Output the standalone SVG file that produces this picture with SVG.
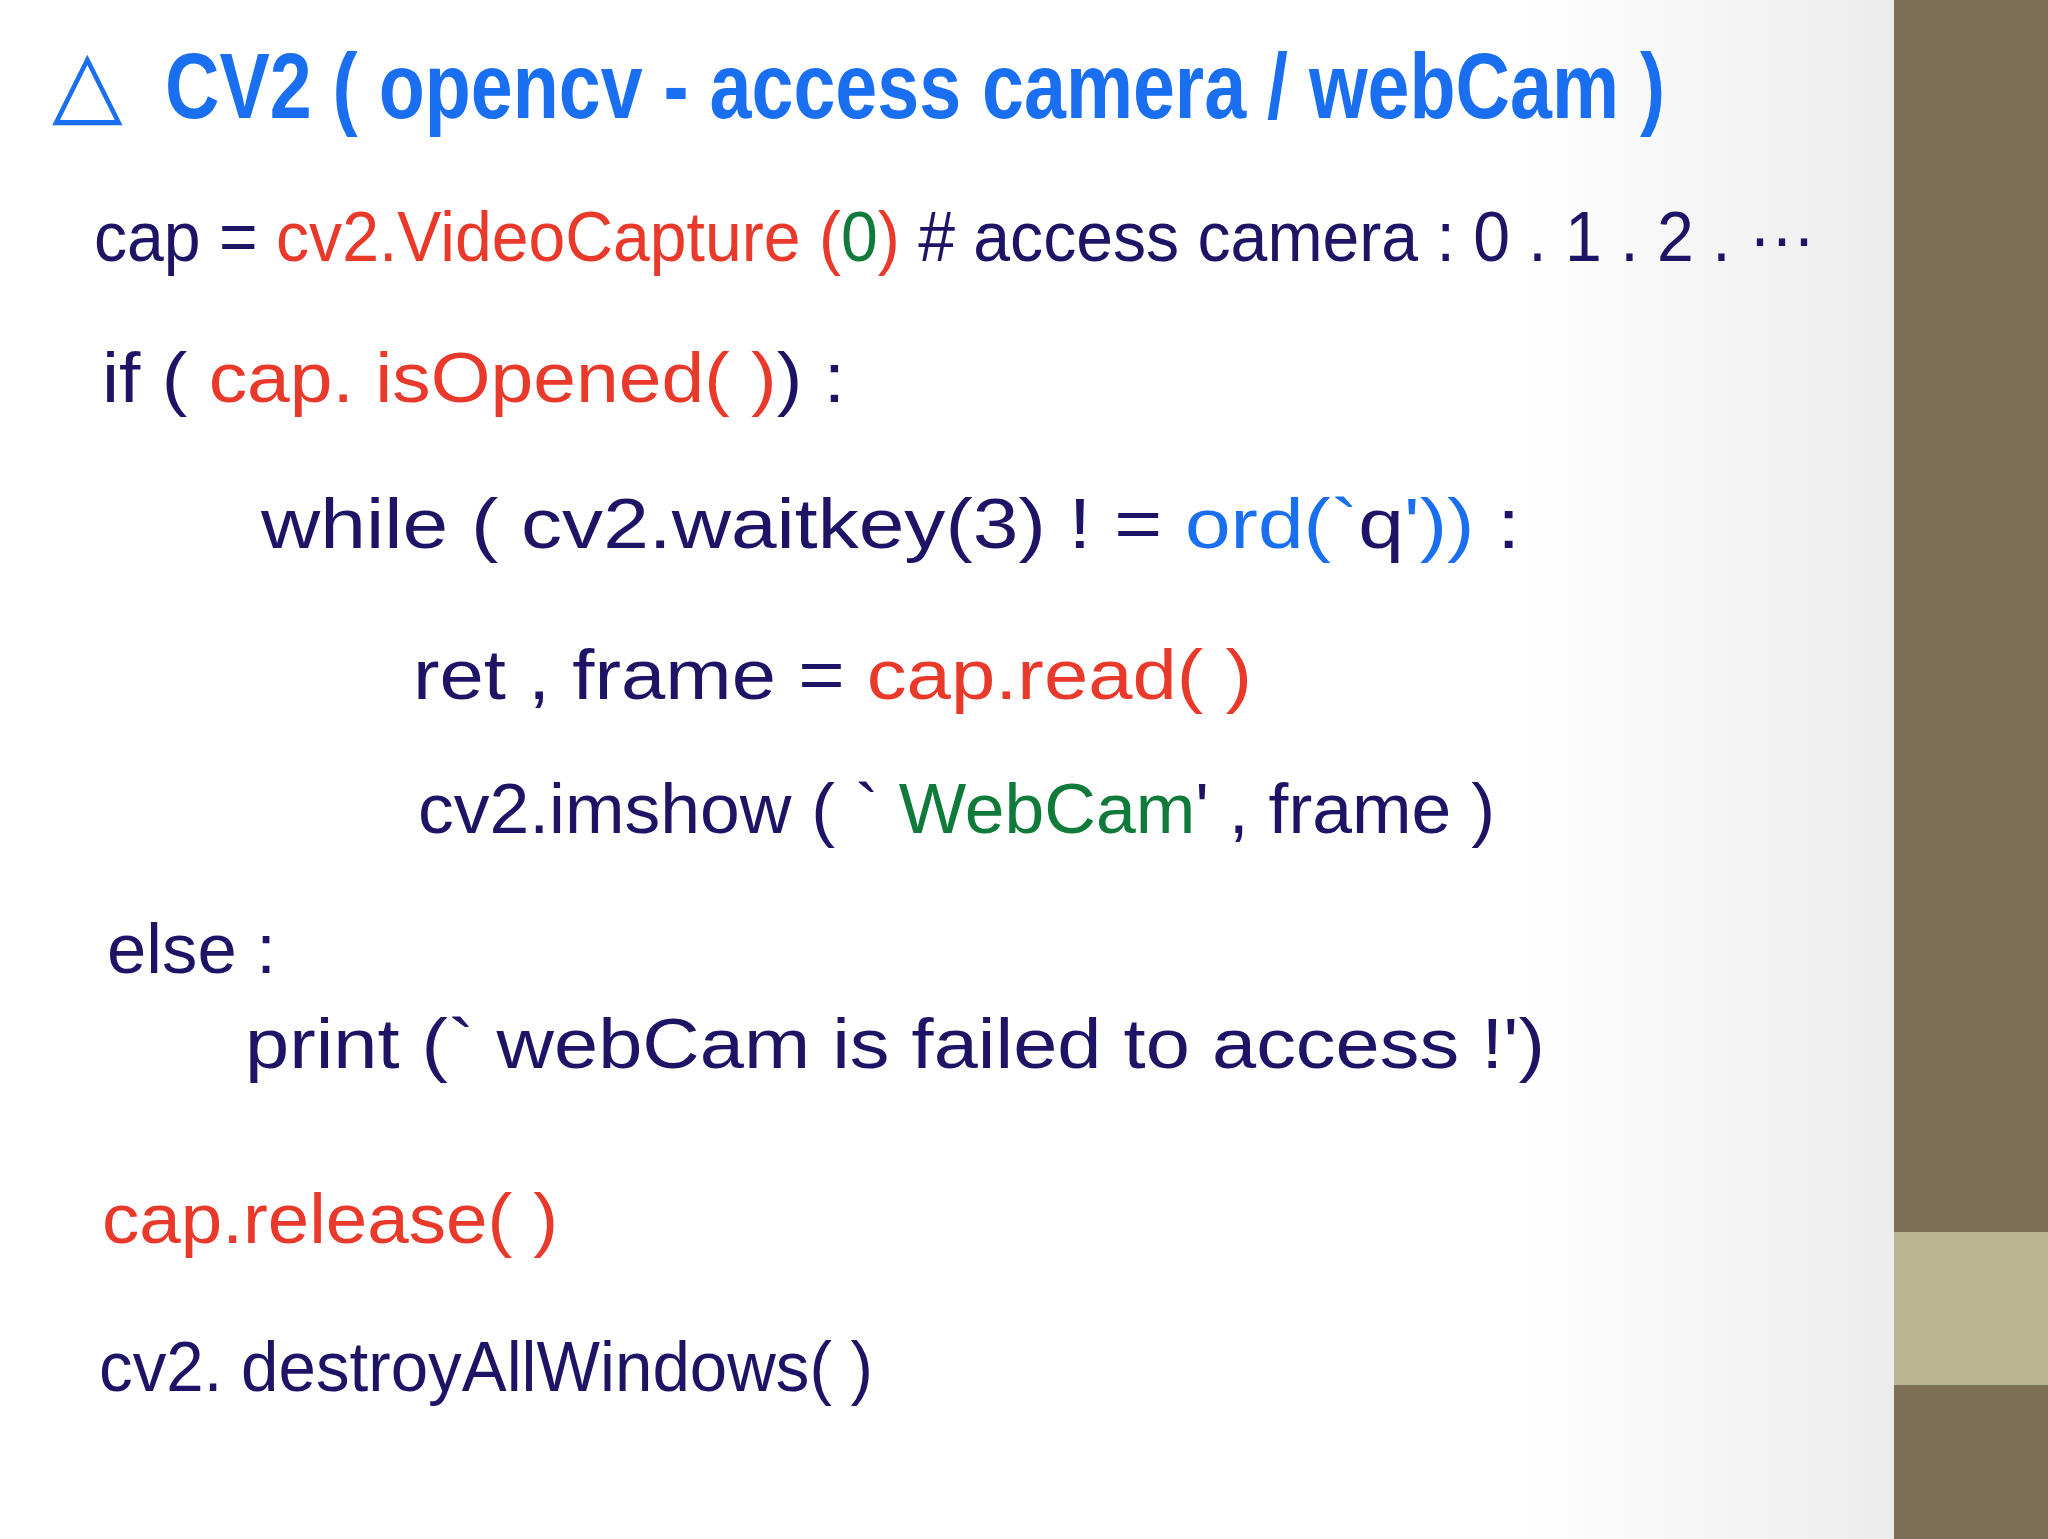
<svg xmlns="http://www.w3.org/2000/svg" width="2048" height="1539" viewBox="0 0 2048 1539">
<defs>
<linearGradient id="bg" x1="0" x2="1" y1="0" y2="0">
<stop offset="0" stop-color="#ffffff"/><stop offset="0.8" stop-color="#ffffff"/><stop offset="1" stop-color="#ececec"/>
</linearGradient>
</defs>
<style>
text{font-family:"Liberation Sans","DejaVu Sans",sans-serif;font-size:70px;fill:#1e1466}
.r{fill:#e8392a}.g{fill:#0f7a3a}.b{fill:#1a6ff0}
.t{font-size:92px;font-weight:bold;fill:#1a6ff0}
</style>
<rect width="1894" height="1539" fill="url(#bg)"/>
<rect x="1894" width="154" height="1539" fill="#7d7057"/>
<rect x="1894" y="1232" width="154" height="153" fill="#b8b592"/>
<g id="title">
<text class="t" x="52" y="114">△</text>
<text class="t" x="165" y="118" textLength="1500" lengthAdjust="spacingAndGlyphs">CV2 ( opencv - access camera / webCam )</text>
</g>
<g id="code">
<text x="94" y="261" textLength="1721" lengthAdjust="spacingAndGlyphs">cap = <tspan class="r">cv2.VideoCapture (</tspan><tspan class="g">0</tspan><tspan class="r">)</tspan> # access camera : 0 . 1 . 2 . ···</text>
<text x="102" y="402" textLength="743" lengthAdjust="spacingAndGlyphs">if ( <tspan class="r">cap. isOpened( )</tspan>) :</text>
<text x="261" y="548" textLength="1259" lengthAdjust="spacingAndGlyphs">while ( cv2.waitkey(3) ! = <tspan class="b">ord(`</tspan>q<tspan class="b">'))</tspan> :</text>
<text x="413" y="699" textLength="839" lengthAdjust="spacingAndGlyphs">ret , frame  = <tspan class="r">cap.read( )</tspan></text>
<text x="418" y="833" textLength="1077" lengthAdjust="spacingAndGlyphs">cv2.imshow ( ` <tspan class="g">WebCam</tspan>' , frame )</text>
<text x="107" y="973" textLength="169" lengthAdjust="spacingAndGlyphs">else :</text>
<text x="245" y="1068" textLength="1300" lengthAdjust="spacingAndGlyphs">print (` webCam is failed to access !')</text>
<text class="r" x="102" y="1243" textLength="456" lengthAdjust="spacingAndGlyphs">cap.release( )</text>
<text x="99" y="1391" textLength="774" lengthAdjust="spacingAndGlyphs">cv2. destroyAllWindows( )</text>
</g>
</svg>
